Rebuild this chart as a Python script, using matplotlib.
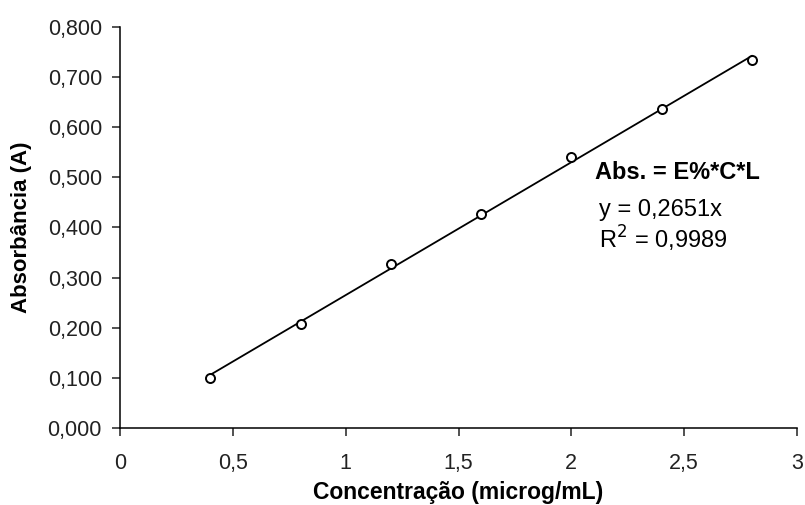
import matplotlib.pyplot as plt
import numpy as np

plt.rcParams['font.family'] = ['Liberation Sans', 'DejaVu Sans']

# dados
conc = [0.4, 0.8, 1.2, 1.6, 2.0, 2.4, 2.8]
absorb = [0.100, 0.207, 0.328, 0.427, 0.540, 0.636, 0.735]
slope = 0.2651
x_ticks = [0, 0.5, 1, 1.5, 2, 2.5, 3]
x_labels = ['0', '0,5', '1', '1,5', '2', '2,5', '3']
y_ticks = [0, 0.1, 0.2, 0.3, 0.4, 0.5, 0.6, 0.7, 0.8]
y_labels = ['0,000', '0,100', '0,200', '0,300', '0,400', '0,500', '0,600', '0,700', '0,800']

W, H = 805, 505
fig = plt.figure(figsize=(W / 100, H / 100), dpi=100)
ax = fig.add_axes([120 / W, 1 - 428 / H, 677 / W, 401 / H])

# linha de tendencia
xl = np.array([conc[0], conc[-1]])
ax.plot(xl, slope * xl, color='black', lw=1.3, zorder=2)
ax.plot(conc, absorb, 'o', ms=6.5, mfc='white', mec='black', mew=1.4, zorder=3)

ax.set_xlim(0, 3)
ax.set_ylim(0, 0.8)
ax.set_xticks(x_ticks)
ax.set_xticklabels(x_labels)
ax.set_yticks(y_ticks)
ax.set_yticklabels(y_labels)
ax.tick_params(labelsize=15.5, length=6, width=1.1, direction='out', colors='#222222')
ax.tick_params(axis='x', pad=12)
ax.tick_params(axis='y', pad=7)

for s in ['top', 'right']:
    ax.spines[s].set_visible(False)
for s in ['left', 'bottom']:
    ax.spines[s].set_linewidth(1.1)

ax.set_xlabel('Concentração (microg/mL)', fontsize=16.5, fontweight='bold')
ax.set_ylabel('Absorbância (A)', fontsize=16, fontweight='bold')
ax.xaxis.set_label_coords(0.5, -(493 - 428) / 401, transform=ax.transAxes)
ax.xaxis.label.set_va('center')
ax.yaxis.set_label_coords(-(120 - 22) / 677, 0.5, transform=ax.transAxes)
ax.yaxis.label.set_va('center')

fig.text(595 / W, 1 - 172 / H, 'Abs. = E%*C*L', fontsize=17, fontweight='bold', va='center')
fig.text(599 / W, 1 - 210 / H, 'y = 0,2651x', fontsize=17, va='center')
fig.text(599 / W, 1 - 239 / H, 'R$^2$ = 0,9989', fontsize=17, va='center')

fig.savefig('out.png', dpi=100)
